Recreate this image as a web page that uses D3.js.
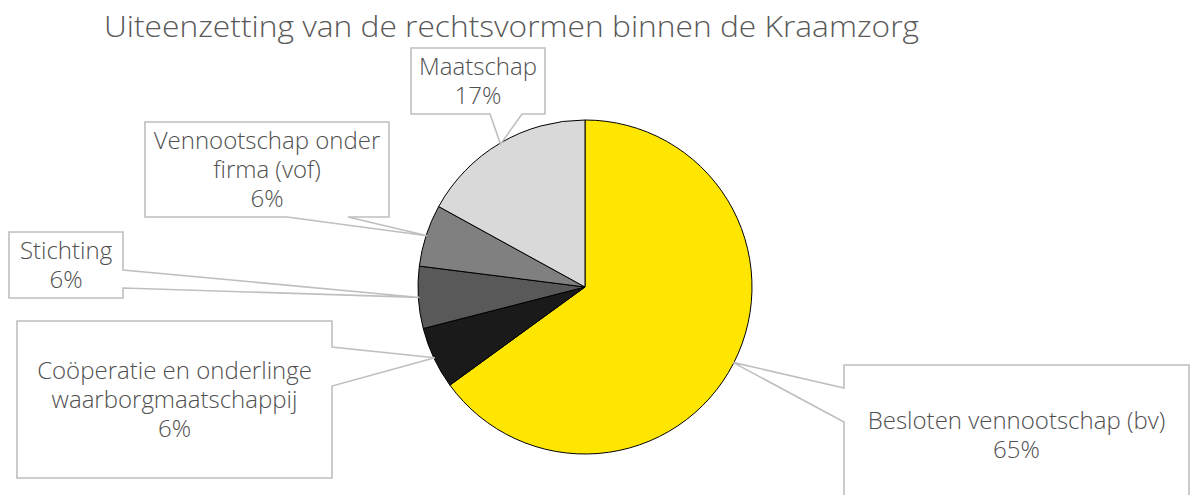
<!DOCTYPE html>
<html>
<head>
<meta charset="utf-8">
<script src="https://cdn.jsdelivr.net/npm/d3@7"></script>
<style>
  body { margin: 0; background: #fff; }
  svg { display: block; }
</style>
</head>
<body>
<div id="chart"></div>
<script>
// chart data
const categories = ['Besloten vennootschap (bv)', 'Coöperatie en onderlinge waarborgmaatschappij', 'Stichting', 'Vennootschap onder firma (vof)', 'Maatschap']
const values = [65, 6, 6, 6, 17]
const labelLines = [
    ['Besloten vennootschap (bv)'],
    ['Coöperatie en onderlinge', 'waarborgmaatschappij'],
    ['Stichting'],
    ['Vennootschap onder', 'firma (vof)'],
    ['Maatschap']
]
const title = 'Uiteenzetting van de rechtsvormen binnen de Kraamzorg'

// look
const sliceColors = ['#ffe600', '#1a1a1a', '#595959', '#808080', '#d9d9d9']
const textColor = '#595959'

// callout boxes (layout only), same order as categories
const callouts = [
    { x: 844, y: 365, w: 345, h: 140, side: 'left', base: [388, 422] },
    { x: 17, y: 321, w: 315, h: 157, side: 'right', base: [347, 386] },
    { x: 9, y: 232, w: 114, h: 66, side: 'right', base: [270, 288] },
    { x: 145, y: 122, w: 244, h: 95, side: 'bottom', base: [287, 348] },
    { x: 411, y: 48, w: 134, h: 66, side: 'bottom', base: [490, 522] }
]

const width = 1191
const height = 495
const cx = 585
const cy = 287
const radius = 167

let svg = d3.select('#chart').append('svg')
    .attr('width', width)
    .attr('height', height)

svg.append('text')
    .attr('x', 104)
    .attr('y', 37)
    .text(title)
    .attr('textLength', 815)
    .attr('lengthAdjust', 'spacingAndGlyphs')
    .style('font-family', '"Open Sans", sans-serif')
    .style('font-weight', 300)
    .style('font-size', '29px')
    .style('fill', textColor)

let pie = d3.pie().sort(null).value(d => d)
let arcs = pie(values)
let arc = d3.arc().innerRadius(0).outerRadius(radius)
let edge = d3.arc().innerRadius(radius - 1).outerRadius(radius - 1)

let pieGroup = svg.append('g')
    .attr('transform', `translate (${cx}, ${cy})`)

pieGroup.selectAll('path')
    .data(arcs)
    .join('path')
    .attr('d', arc)
    .attr('fill', (d, i) => sliceColors[i])
    .style('stroke', '#000')
    .style('stroke-width', 1)

function calloutPath (c, tip) {
    let x1 = c.x, y1 = c.y, x2 = c.x + c.w, y2 = c.y + c.h
    let [b1, b2] = c.base
    if (c.side === 'bottom') {
        return `M${x1},${y1}H${x2}V${y2}H${b2}L${tip[0]},${tip[1]}L${b1},${y2}H${x1}Z`
    }
    if (c.side === 'right') {
        return `M${x1},${y1}H${x2}V${b1}L${tip[0]},${tip[1]}L${x2},${b2}V${y2}H${x1}Z`
    }
    return `M${x1},${y1}H${x2}V${y2}H${x1}V${b2}L${tip[0]},${tip[1]}L${x1},${b1}Z`
}

let labelGroup = svg.append('g')

arcs.forEach((d, i) => {
    let c = callouts[i]
    let p = edge.centroid(d)
    let tip = [cx + p[0], cy + p[1]]

    labelGroup.append('path')
        .attr('d', calloutPath(c, tip))
        .attr('fill', '#fff')
        .style('stroke', '#bfbfbf')
        .style('stroke-width', 1.6)

    let lines = labelLines[i].concat([d3.format('.0f')(values[i]) + '%'])
    let lineHeight = 29
    let firstY = c.y + c.h / 2 - (lines.length - 1) * lineHeight / 2 + 8.5

    let t = labelGroup.append('text')
        .style('font-family', '"Open Sans", sans-serif')
        .style('font-weight', 300)
        .style('font-size', '24px')
        .style('fill', '#505050')
        .style('text-anchor', 'middle')
    lines.forEach((line, j) => {
        t.append('tspan')
            .attr('x', c.x + c.w / 2)
            .attr('y', firstY + j * lineHeight)
            .text(line)
    })
})
</script>
</body>
</html>
